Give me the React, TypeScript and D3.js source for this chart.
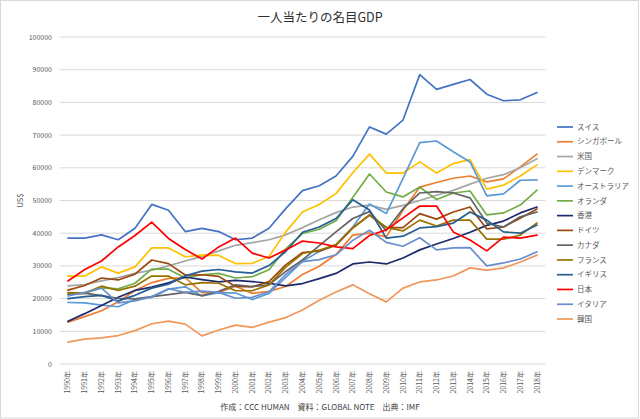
import React from "react";
import * as d3 from "d3";

const years = d3.range(1990, 2019).map((y) => `${y}年`);

const seriesNames = [
  "スイス", "シンガポール", "米国", "デンマーク", "オーストラリア", "オランダ", "香港",
  "ドイツ", "カナダ", "フランス", "イギリス", "日本", "イタリア", "韓国",
];

const seriesColors = [
  "#4472C4", "#ED7D31", "#A5A5A5", "#FFC000", "#5B9BD5", "#70AD47", "#1c2a6b",
  "#9E480E", "#636363", "#997300", "#255E91", "#FF0000", "#698ED0", "#F1975A",
];

const switzerland = [38500, 38500, 39500, 38000, 41500, 48800, 47000, 40500, 41500, 40500, 38000, 38500, 41500, 47500, 53000, 54500, 57500, 63500, 72500, 70300, 74600, 88500, 84000, 85500, 87000, 82500, 80500, 80800, 83000];
const singapore = [12800, 14500, 16300, 19000, 22500, 24900, 26200, 26400, 21800, 21800, 23800, 21600, 22200, 23700, 27400, 29900, 33500, 39400, 40000, 38900, 47000, 54100, 55500, 56800, 57500, 55700, 56600, 60300, 64200];
const usa = [23900, 24300, 25400, 26400, 27700, 28700, 30000, 31500, 32900, 34600, 36300, 37100, 38000, 39500, 41700, 44100, 46300, 48000, 48600, 47300, 48500, 50000, 51600, 53100, 55000, 56800, 57900, 60000, 62800];
const denmark = [26900, 26900, 29700, 27800, 29700, 35500, 35500, 32800, 33300, 33200, 30700, 30800, 32900, 40400, 46500, 48800, 52100, 58500, 64200, 58400, 58400, 61800, 58400, 61300, 62500, 53500, 54700, 57500, 60900];
const australia = [18800, 18700, 18000, 17500, 19700, 20400, 22900, 23600, 20800, 21800, 21700, 19700, 21600, 26500, 31400, 34400, 36500, 41900, 48900, 46000, 56800, 67700, 68200, 64900, 61800, 51400, 52000, 56200, 56300];
const netherlands = [21300, 21600, 23300, 23000, 24700, 29000, 29000, 26300, 27300, 27700, 26300, 26700, 28800, 35200, 39900, 41200, 43800, 50900, 58100, 52600, 51100, 54100, 50300, 52300, 52900, 45600, 46200, 48600, 53200];
const hongkong = [13100, 15400, 17900, 20400, 22500, 23500, 24800, 26600, 25800, 25100, 25600, 25200, 24700, 23900, 24600, 26100, 27700, 30600, 31200, 30600, 32400, 34900, 36700, 38400, 40300, 42400, 43700, 46200, 48000];
const germany = [22600, 24000, 26300, 25700, 27500, 31800, 30700, 27200, 27300, 26800, 23700, 23600, 25200, 30300, 34100, 34500, 36300, 41600, 45600, 41700, 41700, 46000, 44300, 46500, 48000, 41300, 41900, 44600, 47400];
const canada = [21400, 21700, 20900, 20100, 19900, 20600, 21200, 21900, 20900, 22200, 24200, 23700, 24200, 28300, 31800, 36200, 40400, 44500, 46600, 40800, 47500, 52300, 52700, 52300, 50800, 43100, 41900, 45000, 46500];
const france = [21800, 21700, 23800, 22500, 23800, 26900, 26900, 24200, 24900, 24700, 22400, 22400, 24200, 29600, 33800, 34800, 36500, 41600, 45500, 41800, 40700, 44000, 42200, 44000, 44000, 38200, 38200, 39400, 43100];
const uk = [20000, 20600, 21000, 19300, 21000, 23200, 24400, 27000, 28400, 28900, 28200, 27800, 30100, 34400, 40300, 41900, 44500, 50200, 47100, 38500, 39100, 41600, 42000, 43100, 46500, 44000, 40400, 40000, 42500];
const japan = [25400, 28900, 31500, 35800, 39300, 43400, 38400, 35000, 32100, 35800, 38500, 33900, 32400, 34900, 37600, 37000, 35800, 35300, 39300, 41000, 44700, 48300, 48300, 40400, 37900, 34600, 38800, 38500, 39400];
const italy = [20800, 21900, 23200, 18700, 19300, 20600, 23000, 21900, 22300, 21900, 20100, 20400, 22100, 27400, 31300, 31900, 33400, 37800, 40900, 37200, 36000, 38600, 34900, 35500, 35600, 30000, 30900, 32100, 34300];
const korea = [6700, 7600, 8000, 8700, 10200, 12300, 13100, 12200, 8600, 10400, 11900, 11200, 12800, 14200, 16500, 19500, 22000, 24200, 21500, 19000, 23200, 25100, 25700, 26900, 29400, 28700, 29400, 31200, 33300];

const seriesValues = [
  switzerland, singapore, usa, denmark, australia, netherlands, hongkong,
  germany, canada, france, uk, japan, italy, korea,
];

const yTicks = d3.range(0, 100001, 10000);

const titleText = "一人当たりの名目GDP";
const yTitle = "US$";
const footerText = "作成：CCC HUMAN　資料：GLOBAL NOTE　出典：IMF";

export default function App() {
  const W = 640;
  const H = 419;
  const plotLeft = 59.6;
  const plotRight = 545.4;
  const plotTop = 37;
  const plotBottom = 364;

  const x = d3.scaleBand<string>().domain(years).range([plotLeft, plotRight]);
  const y = d3.scaleLinear().domain([0, 100000]).range([plotBottom, plotTop]);
  const cx = (i: number) => (x(years[i]) as number) + x.bandwidth() / 2;

  const line = d3
    .line<number>()
    .x((_, i) => cx(i))
    .y((d) => y(d));

  const font = "'Noto Sans CJK JP', 'Noto Sans', sans-serif";
  const legendTop = 127;
  const legendStep = 14.77;

  return (
    <svg
      width={W}
      height={H}
      style={{ position: "absolute", left: 0, top: 0, background: "#fff" }}
      fontFamily={font}
    >
      <rect x={0.5} y={0.5} width={638} height={417.5} fill="#fff" stroke="#d9d9d9" />
      <text x={320} y={22} textAnchor="middle" fontSize={12.5} fill="#303030">
        {titleText}
      </text>
      {yTicks.map((t) => (
        <g key={t}>
          <line x1={plotLeft} x2={plotRight} y1={y(t)} y2={y(t)} stroke="#d9d9d9" strokeWidth={1} />
          <text x={52} y={y(t) + 2.5} textAnchor="end" fontSize={7} fill="#595959">
            {t}
          </text>
        </g>
      ))}
      <text
        transform={`translate(23,${(plotTop + plotBottom) / 2}) rotate(-90)`}
        textAnchor="middle"
        fontSize={7.5}
        fill="#595959"
      >
        {yTitle}
      </text>
      {years.map((yr, i) => (
        <text
          key={yr}
          transform={`translate(${cx(i) + 2.5},${plotBottom + 7}) rotate(-90)`}
          textAnchor="end"
          fontSize={7}
          fill="#595959"
        >
          {yr}
        </text>
      ))}
      {seriesValues.map((vals, si) => (
        <path
          key={seriesNames[si]}
          d={line(vals) || ""}
          fill="none"
          stroke={seriesColors[si]}
          strokeWidth={1.7}
          strokeLinejoin="round"
          strokeLinecap="round"
        />
      ))}
      {seriesNames.map((name, si) => {
        const ly = legendTop + si * legendStep;
        return (
          <g key={name}>
            <line x1={557} x2={573} y1={ly} y2={ly} stroke={seriesColors[si]} strokeWidth={1.7} />
            <text x={577} y={ly + 2.7} fontSize={7.5} fill="#595959">
              {name}
            </text>
          </g>
        );
      })}
      <text x={320} y={410} textAnchor="middle" fontSize={8} fill="#404040">
        {footerText}
      </text>
    </svg>
  );
}
